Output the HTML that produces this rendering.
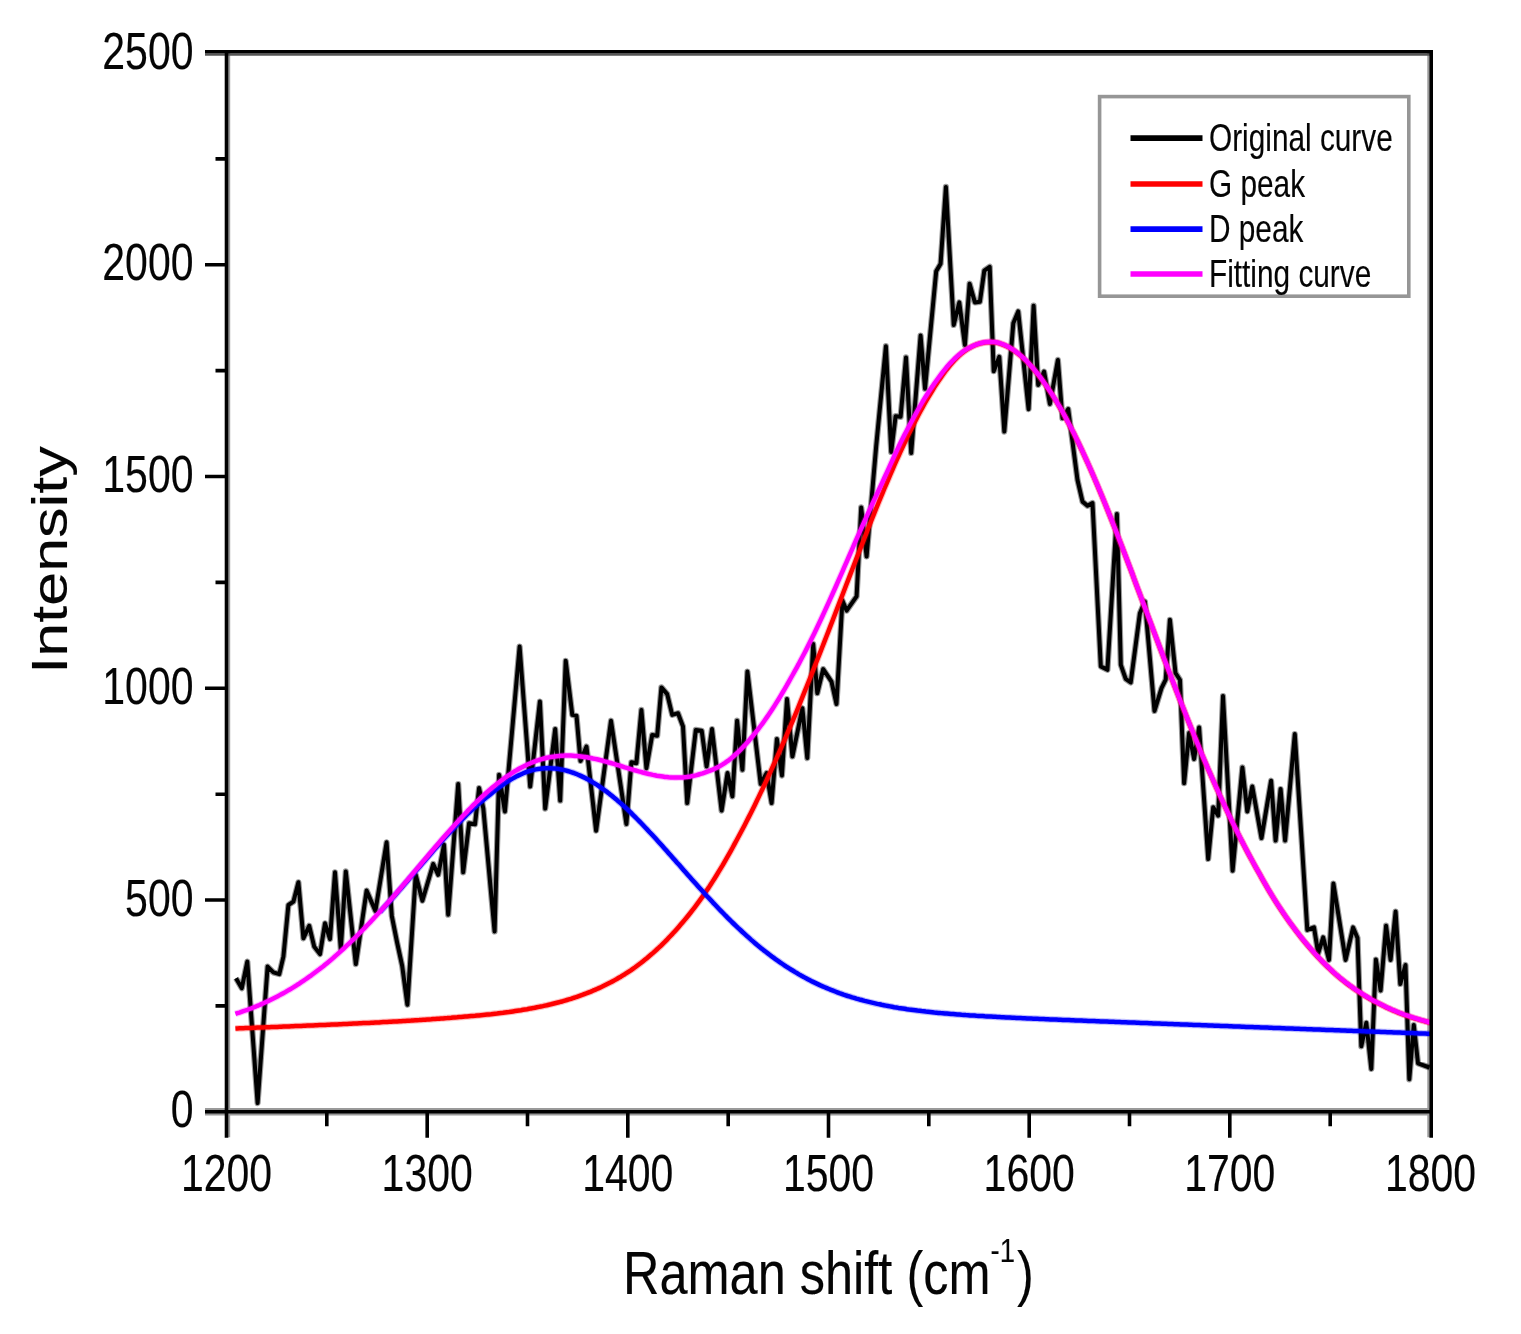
<!DOCTYPE html>
<html lang="en"><head><meta charset="utf-8"><title>Raman spectrum</title>
<style>html,body{margin:0;padding:0;background:#fff}body{width:1521px;height:1334px;overflow:hidden}svg{display:block}text{font-family:"Liberation Sans", Arial, Helvetica, sans-serif;fill:#050505;stroke:#050505;stroke-linejoin:round}</style></head><body>
<svg width="1521" height="1334" viewBox="0 0 1521 1334">
<rect width="1521" height="1334" fill="#fff"/>
<g>
<g stroke="#9a9a9a" stroke-width="2.4" fill="none">
<path d="M229.0,53.0 V1137.3"/>
<path d="M1428.5,53.0 V1137.3"/>
<path d="M205.0,1109.3 H1430.5"/>
<path d="M205.0,1114.3 H1430.5"/>
<path d="M205.0,54.6 H1430.5" stroke="#555"/>
</g>
<g fill="none" stroke-linejoin="round" stroke-linecap="butt">
<path d="M236.0,978.2 L241.8,988.2 L247.3,961.6 L257.6,1103.1 L267.6,966.6 L273.4,972.4 L279.3,974.1 L283.4,956.6 L288.4,905.0 L293.4,901.7 L298.4,882.3 L303.4,938.3 L309.2,925.8 L314.2,946.6 L320.0,954.1 L325.0,923.3 L330.0,939.1 L335.0,872.3 L340.8,949.1 L345.8,871.4 L355.8,964.1 L366.6,890.6 L375.4,911.0 L386.6,842.3 L391.8,916.0 L397.0,942.0 L402.2,966.0 L407.4,1004.8 L415.7,874.8 L422.4,900.7 L433.2,864.0 L438.2,874.8 L444.0,844.8 L448.2,914.7 L458.2,784.1 L463.2,872.3 L469.1,823.2 L475.0,824.3 L479.1,788.1 L483.3,808.3 L494.6,931.5 L499.1,774.8 L504.9,811.5 L519.6,646.6 L530.2,786.5 L539.9,701.6 L545.2,808.6 L555.2,729.0 L560.2,800.6 L565.7,660.8 L572.3,714.9 L576.5,715.7 L580.5,761.0 L586.5,746.5 L596.1,830.7 L611.0,720.7 L626.4,824.0 L631.4,762.3 L636.4,763.2 L641.4,709.9 L646.4,768.2 L652.2,734.9 L657.2,735.7 L661.4,687.4 L667.2,694.1 L672.2,714.9 L678.0,713.2 L683.0,726.5 L687.2,803.1 L695.8,729.9 L701.7,730.7 L706.6,766.5 L712.0,729.0 L721.6,810.6 L727.5,773.1 L732.4,796.4 L737.1,720.7 L742.4,769.8 L747.4,671.6 L760.7,783.9 L766.6,773.1 L771.6,803.1 L776.9,739.0 L781.9,775.6 L787.0,699.1 L792.4,756.5 L802.4,708.2 L807.3,758.1 L813.2,644.1 L817.3,693.2 L823.2,669.1 L831.5,681.6 L836.5,704.0 L842.4,600.6 L846.6,610.6 L856.6,596.4 L861.2,507.4 L866.6,556.5 L876.2,446.0 L885.9,346.2 L891.2,452.0 L895.6,416.2 L900.6,416.8 L906.0,357.4 L911.2,453.0 L920.6,335.6 L925.0,388.7 L936.2,271.2 L940.6,263.7 L945.9,186.9 L953.7,325.0 L959.3,302.4 L964.9,345.0 L969.6,283.7 L974.9,302.4 L979.9,301.8 L984.3,270.6 L989.7,266.8 L993.7,371.2 L999.3,356.8 L1004.3,431.6 L1013.3,323.3 L1018.2,311.4 L1028.6,409.2 L1033.6,305.7 L1038.2,384.9 L1044.1,371.6 L1049.9,404.0 L1057.9,359.9 L1062.4,418.2 L1068.2,409.0 L1077.5,480.0 L1082.5,501.6 L1087.5,505.8 L1092.5,503.0 L1100.8,666.4 L1107.4,669.8 L1116.9,514.1 L1120.8,664.8 L1125.7,678.9 L1130.7,682.5 L1139.9,613.2 L1144.9,601.5 L1154.5,711.0 L1161.5,688.1 L1165.7,679.7 L1169.9,619.8 L1175.5,673.0 L1180.0,680.0 L1184.1,783.2 L1189.1,733.0 L1194.1,759.0 L1199.1,727.4 L1208.2,859.0 L1213.2,807.3 L1218.2,815.6 L1223.0,696.0 L1232.6,870.7 L1242.4,767.4 L1247.3,811.5 L1252.3,786.5 L1261.5,838.1 L1271.1,780.7 L1275.6,840.6 L1280.6,789.0 L1285.1,840.6 L1294.8,734.1 L1301.4,836.4 L1307.3,929.9 L1314.0,927.4 L1318.2,953.2 L1323.2,937.4 L1329.0,959.9 L1333.4,883.5 L1345.6,959.9 L1353.1,927.4 L1357.5,938.0 L1361.3,1046.3 L1366.3,1022.8 L1371.3,1069.0 L1375.9,959.5 L1380.6,990.5 L1386.1,925.7 L1390.6,959.9 L1395.6,911.6 L1400.3,984.0 L1405.5,965.0 L1409.3,1079.3 L1413.8,1025.0 L1418.0,1063.4 L1429.5,1067.5" stroke="#000" stroke-opacity="0.4" stroke-width="6.2"/>
<path d="M236.0,978.2 L241.8,988.2 L247.3,961.6 L257.6,1103.1 L267.6,966.6 L273.4,972.4 L279.3,974.1 L283.4,956.6 L288.4,905.0 L293.4,901.7 L298.4,882.3 L303.4,938.3 L309.2,925.8 L314.2,946.6 L320.0,954.1 L325.0,923.3 L330.0,939.1 L335.0,872.3 L340.8,949.1 L345.8,871.4 L355.8,964.1 L366.6,890.6 L375.4,911.0 L386.6,842.3 L391.8,916.0 L397.0,942.0 L402.2,966.0 L407.4,1004.8 L415.7,874.8 L422.4,900.7 L433.2,864.0 L438.2,874.8 L444.0,844.8 L448.2,914.7 L458.2,784.1 L463.2,872.3 L469.1,823.2 L475.0,824.3 L479.1,788.1 L483.3,808.3 L494.6,931.5 L499.1,774.8 L504.9,811.5 L519.6,646.6 L530.2,786.5 L539.9,701.6 L545.2,808.6 L555.2,729.0 L560.2,800.6 L565.7,660.8 L572.3,714.9 L576.5,715.7 L580.5,761.0 L586.5,746.5 L596.1,830.7 L611.0,720.7 L626.4,824.0 L631.4,762.3 L636.4,763.2 L641.4,709.9 L646.4,768.2 L652.2,734.9 L657.2,735.7 L661.4,687.4 L667.2,694.1 L672.2,714.9 L678.0,713.2 L683.0,726.5 L687.2,803.1 L695.8,729.9 L701.7,730.7 L706.6,766.5 L712.0,729.0 L721.6,810.6 L727.5,773.1 L732.4,796.4 L737.1,720.7 L742.4,769.8 L747.4,671.6 L760.7,783.9 L766.6,773.1 L771.6,803.1 L776.9,739.0 L781.9,775.6 L787.0,699.1 L792.4,756.5 L802.4,708.2 L807.3,758.1 L813.2,644.1 L817.3,693.2 L823.2,669.1 L831.5,681.6 L836.5,704.0 L842.4,600.6 L846.6,610.6 L856.6,596.4 L861.2,507.4 L866.6,556.5 L876.2,446.0 L885.9,346.2 L891.2,452.0 L895.6,416.2 L900.6,416.8 L906.0,357.4 L911.2,453.0 L920.6,335.6 L925.0,388.7 L936.2,271.2 L940.6,263.7 L945.9,186.9 L953.7,325.0 L959.3,302.4 L964.9,345.0 L969.6,283.7 L974.9,302.4 L979.9,301.8 L984.3,270.6 L989.7,266.8 L993.7,371.2 L999.3,356.8 L1004.3,431.6 L1013.3,323.3 L1018.2,311.4 L1028.6,409.2 L1033.6,305.7 L1038.2,384.9 L1044.1,371.6 L1049.9,404.0 L1057.9,359.9 L1062.4,418.2 L1068.2,409.0 L1077.5,480.0 L1082.5,501.6 L1087.5,505.8 L1092.5,503.0 L1100.8,666.4 L1107.4,669.8 L1116.9,514.1 L1120.8,664.8 L1125.7,678.9 L1130.7,682.5 L1139.9,613.2 L1144.9,601.5 L1154.5,711.0 L1161.5,688.1 L1165.7,679.7 L1169.9,619.8 L1175.5,673.0 L1180.0,680.0 L1184.1,783.2 L1189.1,733.0 L1194.1,759.0 L1199.1,727.4 L1208.2,859.0 L1213.2,807.3 L1218.2,815.6 L1223.0,696.0 L1232.6,870.7 L1242.4,767.4 L1247.3,811.5 L1252.3,786.5 L1261.5,838.1 L1271.1,780.7 L1275.6,840.6 L1280.6,789.0 L1285.1,840.6 L1294.8,734.1 L1301.4,836.4 L1307.3,929.9 L1314.0,927.4 L1318.2,953.2 L1323.2,937.4 L1329.0,959.9 L1333.4,883.5 L1345.6,959.9 L1353.1,927.4 L1357.5,938.0 L1361.3,1046.3 L1366.3,1022.8 L1371.3,1069.0 L1375.9,959.5 L1380.6,990.5 L1386.1,925.7 L1390.6,959.9 L1395.6,911.6 L1400.3,984.0 L1405.5,965.0 L1409.3,1079.3 L1413.8,1025.0 L1418.0,1063.4 L1429.5,1067.5" stroke="#000" stroke-width="4.0"/>
<path d="M235.4,1028.5 L237.4,1028.4 L239.4,1028.3 L241.4,1028.3 L243.4,1028.2 L245.4,1028.1 L247.4,1028.0 L249.4,1028.0 L251.4,1027.9 L253.4,1027.8 L255.4,1027.7 L257.4,1027.6 L259.4,1027.6 L261.4,1027.5 L263.4,1027.4 L265.4,1027.3 L267.4,1027.3 L269.3,1027.2 L271.3,1027.1 L273.3,1027.0 L275.3,1026.9 L277.3,1026.9 L279.3,1026.8 L281.3,1026.7 L283.3,1026.6 L285.3,1026.5 L287.3,1026.5 L289.3,1026.4 L291.3,1026.3 L293.3,1026.2 L295.3,1026.1 L297.3,1026.1 L299.3,1026.0 L301.3,1025.9 L303.3,1025.8 L305.3,1025.7 L307.3,1025.6 L309.3,1025.6 L311.3,1025.5 L313.3,1025.4 L315.3,1025.3 L317.3,1025.2 L319.3,1025.1 L321.3,1025.1 L323.3,1025.0 L325.3,1024.9 L327.3,1024.8 L329.3,1024.7 L331.3,1024.6 L333.3,1024.5 L335.2,1024.4 L337.2,1024.4 L339.2,1024.3 L341.2,1024.2 L343.2,1024.1 L345.2,1024.0 L347.2,1023.9 L349.2,1023.8 L351.2,1023.7 L353.2,1023.6 L355.2,1023.5 L357.2,1023.4 L359.2,1023.3 L361.2,1023.2 L363.2,1023.1 L365.2,1023.1 L367.2,1023.0 L369.2,1022.9 L371.2,1022.8 L373.2,1022.7 L375.2,1022.6 L377.2,1022.5 L379.2,1022.4 L381.2,1022.2 L383.2,1022.1 L385.2,1022.0 L387.2,1021.9 L389.2,1021.8 L391.2,1021.7 L393.2,1021.6 L395.2,1021.5 L397.2,1021.4 L399.2,1021.3 L401.2,1021.2 L403.1,1021.0 L405.1,1020.9 L407.1,1020.8 L409.1,1020.7 L411.1,1020.6 L413.1,1020.4 L415.1,1020.3 L417.1,1020.2 L419.1,1020.1 L421.1,1019.9 L423.1,1019.8 L425.1,1019.7 L427.1,1019.5 L429.1,1019.4 L431.1,1019.3 L433.1,1019.1 L435.1,1019.0 L437.1,1018.8 L439.1,1018.7 L441.1,1018.5 L443.1,1018.4 L445.1,1018.2 L447.1,1018.1 L449.1,1017.9 L451.1,1017.8 L453.1,1017.6 L455.1,1017.4 L457.1,1017.3 L459.1,1017.1 L461.1,1017.0 L463.1,1016.8 L465.1,1016.6 L467.1,1016.5 L469.0,1016.3 L471.0,1016.1 L473.0,1015.9 L475.0,1015.8 L477.0,1015.6 L479.0,1015.4 L481.0,1015.2 L483.0,1015.0 L485.0,1014.8 L487.0,1014.6 L489.0,1014.4 L491.0,1014.2 L493.0,1013.9 L495.0,1013.7 L497.0,1013.5 L499.0,1013.2 L501.0,1013.0 L503.0,1012.8 L505.0,1012.5 L507.0,1012.2 L509.0,1012.0 L511.0,1011.7 L513.0,1011.4 L515.0,1011.1 L517.0,1010.8 L519.0,1010.5 L521.0,1010.2 L523.0,1009.8 L525.0,1009.5 L527.0,1009.2 L529.0,1008.8 L531.0,1008.4 L533.0,1008.1 L534.9,1007.7 L536.9,1007.3 L538.9,1006.9 L540.9,1006.5 L542.9,1006.1 L544.9,1005.6 L546.9,1005.2 L548.9,1004.7 L550.9,1004.3 L552.9,1003.8 L554.9,1003.3 L556.9,1002.8 L558.9,1002.3 L560.9,1001.7 L562.9,1001.2 L564.9,1000.6 L566.9,1000.0 L568.9,999.4 L570.9,998.8 L572.9,998.1 L574.9,997.5 L576.9,996.8 L578.9,996.1 L580.9,995.4 L582.9,994.7 L584.9,993.9 L586.9,993.2 L588.9,992.4 L590.9,991.6 L592.9,990.7 L594.9,989.9 L596.9,989.0 L598.9,988.1 L600.9,987.2 L602.8,986.3 L604.8,985.3 L606.8,984.3 L608.8,983.3 L610.8,982.3 L612.8,981.2 L614.8,980.1 L616.8,979.0 L618.8,977.8 L620.8,976.7 L622.8,975.4 L624.8,974.2 L626.8,972.9 L628.8,971.6 L630.8,970.3 L632.8,968.9 L634.8,967.5 L636.8,966.0 L638.8,964.5 L640.8,963.0 L642.8,961.4 L644.8,959.8 L646.8,958.2 L648.8,956.5 L650.8,954.8 L652.8,953.1 L654.8,951.3 L656.8,949.5 L658.8,947.7 L660.8,945.8 L662.8,943.8 L664.8,941.9 L666.8,939.9 L668.7,937.8 L670.7,935.7 L672.7,933.6 L674.7,931.4 L676.7,929.2 L678.7,926.9 L680.7,924.6 L682.7,922.3 L684.7,919.9 L686.7,917.5 L688.7,915.0 L690.7,912.5 L692.7,909.9 L694.7,907.3 L696.7,904.6 L698.7,901.9 L700.7,899.2 L702.7,896.4 L704.7,893.5 L706.7,890.5 L708.7,887.6 L710.7,884.5 L712.7,881.4 L714.7,878.2 L716.7,875.0 L718.7,871.7 L720.7,868.4 L722.7,865.1 L724.7,861.6 L726.7,858.2 L728.7,854.7 L730.7,851.1 L732.7,847.5 L734.6,843.9 L736.6,840.2 L738.6,836.5 L740.6,832.8 L742.6,829.0 L744.6,825.2 L746.6,821.3 L748.6,817.4 L750.6,813.4 L752.6,809.4 L754.6,805.4 L756.6,801.3 L758.6,797.1 L760.6,792.9 L762.6,788.7 L764.6,784.5 L766.6,780.2 L768.6,775.8 L770.6,771.4 L772.6,767.0 L774.6,762.6 L776.6,758.1 L778.6,753.6 L780.6,749.1 L782.6,744.5 L784.6,739.9 L786.6,735.2 L788.6,730.5 L790.6,725.8 L792.6,721.1 L794.6,716.3 L796.6,711.5 L798.6,706.6 L800.5,701.8 L802.5,696.9 L804.5,691.9 L806.5,687.0 L808.5,682.0 L810.5,677.0 L812.5,671.9 L814.5,666.9 L816.5,661.8 L818.5,656.7 L820.5,651.6 L822.5,646.5 L824.5,641.4 L826.5,636.2 L828.5,631.1 L830.5,625.9 L832.5,620.7 L834.5,615.5 L836.5,610.3 L838.5,605.1 L840.5,599.9 L842.5,594.7 L844.5,589.5 L846.5,584.3 L848.5,579.1 L850.5,573.9 L852.5,568.8 L854.5,563.6 L856.5,558.4 L858.5,553.3 L860.5,548.2 L862.5,543.1 L864.5,538.0 L866.5,532.9 L868.4,527.8 L870.4,522.8 L872.4,517.8 L874.4,512.9 L876.4,507.9 L878.4,503.0 L880.4,498.2 L882.4,493.3 L884.4,488.5 L886.4,483.8 L888.4,479.1 L890.4,474.4 L892.4,469.8 L894.4,465.2 L896.4,460.7 L898.4,456.3 L900.4,451.9 L902.4,447.5 L904.4,443.2 L906.4,439.0 L908.4,434.8 L910.4,430.7 L912.4,426.7 L914.4,422.7 L916.4,418.9 L918.4,415.0 L920.4,411.3 L922.4,407.6 L924.4,404.0 L926.4,400.5 L928.4,397.1 L930.4,393.8 L932.4,390.5 L934.3,387.4 L936.3,384.3 L938.3,381.3 L940.3,378.4 L942.3,375.5 L944.3,372.7 L946.3,370.0 L948.3,367.5 L950.3,365.0 L952.3,362.7 L954.3,360.5 L956.3,358.4 L958.3,356.4 L960.3,354.6 L962.3,352.9 L964.3,351.3 L966.3,349.9 L968.3,348.6 L970.3,347.5 L972.3,346.4 L974.3,345.5 L976.3,344.7 L978.3,344.0 L980.3,343.4 L982.3,343.0 L984.3,342.6 L986.3,342.3 L988.3,342.2 L990.3,342.1 L992.3,342.2 L994.3,342.3 L996.3,342.6 L998.3,343.0 L1000.2,343.6 L1002.2,344.3 L1004.2,345.1 L1006.2,346.0 L1008.2,347.0 L1010.2,348.1 L1012.2,349.4 L1014.2,350.7 L1016.2,352.2 L1018.2,353.7 L1020.2,355.4 L1022.2,357.1 L1024.2,359.0 L1026.2,361.0 L1028.2,363.0 L1030.2,365.2 L1032.2,367.5 L1034.2,369.8 L1036.2,372.3 L1038.2,374.8 L1040.2,377.5 L1042.2,380.2 L1044.2,383.0 L1046.2,385.8 L1048.2,388.8 L1050.2,391.8 L1052.2,394.8 L1054.2,398.0 L1056.2,401.2 L1058.2,404.6 L1060.2,408.0 L1062.2,411.5 L1064.2,415.1 L1066.1,418.7 L1068.1,422.5 L1070.1,426.3 L1072.1,430.2 L1074.1,434.1 L1076.1,438.2 L1078.1,442.3 L1080.1,446.5 L1082.1,450.7 L1084.1,455.1 L1086.1,459.5 L1088.1,463.9 L1090.1,468.4 L1092.1,473.0 L1094.1,477.6 L1096.1,482.3 L1098.1,487.0 L1100.1,491.8 L1102.1,496.6 L1104.1,501.5 L1106.1,506.4 L1108.1,511.4 L1110.1,516.4 L1112.1,521.4 L1114.1,526.5 L1116.1,531.6 L1118.1,536.8 L1120.1,542.0 L1122.1,547.1 L1124.1,552.4 L1126.1,557.6 L1128.1,562.9 L1130.1,568.1 L1132.1,573.4 L1134.0,578.7 L1136.0,584.1 L1138.0,589.4 L1140.0,594.7 L1142.0,600.0 L1144.0,605.4 L1146.0,610.7 L1148.0,616.1 L1150.0,621.4 L1152.0,626.7 L1154.0,632.1 L1156.0,637.4 L1158.0,642.7 L1160.0,648.0 L1162.0,653.3 L1164.0,658.6 L1166.0,663.8 L1168.0,669.1 L1170.0,674.3 L1172.0,679.5 L1174.0,684.7 L1176.0,689.9 L1178.0,695.0 L1180.0,700.2 L1182.0,705.3 L1184.0,710.3 L1186.0,715.4 L1188.0,720.4 L1190.0,725.4 L1192.0,730.3 L1194.0,735.3 L1196.0,740.2 L1198.0,745.0 L1199.9,749.8 L1201.9,754.6 L1203.9,759.3 L1205.9,764.0 L1207.9,768.6 L1209.9,773.2 L1211.9,777.7 L1213.9,782.2 L1215.9,786.7 L1217.9,791.1 L1219.9,795.6 L1221.9,800.0 L1223.9,804.3 L1225.9,808.6 L1227.9,812.9 L1229.9,817.1 L1231.9,821.3 L1233.9,825.4 L1235.9,829.5 L1237.9,833.5 L1239.9,837.5 L1241.9,841.4 L1243.9,845.3 L1245.9,849.1 L1247.9,852.9 L1249.9,856.6 L1251.9,860.3 L1253.9,864.0 L1255.9,867.6 L1257.9,871.1 L1259.9,874.7 L1261.9,878.3 L1263.9,881.8 L1265.8,885.2 L1267.8,888.7 L1269.8,892.0 L1271.8,895.3 L1273.8,898.6 L1275.8,901.8 L1277.8,904.9 L1279.8,907.9 L1281.8,910.9 L1283.8,913.9 L1285.8,916.8 L1287.8,919.7 L1289.8,922.5 L1291.8,925.2 L1293.8,927.9 L1295.8,930.6 L1297.8,933.2 L1299.8,935.8 L1301.8,938.3 L1303.8,940.8 L1305.8,943.2 L1307.8,945.6 L1309.8,947.9 L1311.8,950.2 L1313.8,952.5 L1315.8,954.7 L1317.8,956.9 L1319.8,959.0 L1321.8,961.1 L1323.8,963.1 L1325.8,965.1 L1327.8,967.0 L1329.8,968.9 L1331.8,970.8 L1333.7,972.6 L1335.7,974.4 L1337.7,976.1 L1339.7,977.8 L1341.7,979.4 L1343.7,981.0 L1345.7,982.6 L1347.7,984.1 L1349.7,985.6 L1351.7,987.0 L1353.7,988.5 L1355.7,989.9 L1357.7,991.2 L1359.7,992.5 L1361.7,993.8 L1363.7,995.1 L1365.7,996.3 L1367.7,997.5 L1369.7,998.7 L1371.7,999.9 L1373.7,1001.0 L1375.7,1002.1 L1377.7,1003.1 L1379.7,1004.1 L1381.7,1005.1 L1383.7,1006.1 L1385.7,1007.1 L1387.7,1008.0 L1389.7,1008.9 L1391.7,1009.8 L1393.7,1010.6 L1395.7,1011.5 L1397.7,1012.3 L1399.6,1013.1 L1401.6,1013.8 L1403.6,1014.6 L1405.6,1015.3 L1407.6,1016.0 L1409.6,1016.7 L1411.6,1017.3 L1413.6,1018.0 L1415.6,1018.6 L1417.6,1019.2 L1419.6,1019.8 L1421.6,1020.4 L1423.6,1020.9 L1425.6,1021.5 L1427.6,1022.0 L1429.6,1022.5 L1431.6,1023.0" stroke="#ff0000" stroke-opacity="0.25" stroke-width="6.7"/>
<path d="M235.4,1028.5 L237.4,1028.4 L239.4,1028.3 L241.4,1028.3 L243.4,1028.2 L245.4,1028.1 L247.4,1028.0 L249.4,1028.0 L251.4,1027.9 L253.4,1027.8 L255.4,1027.7 L257.4,1027.6 L259.4,1027.6 L261.4,1027.5 L263.4,1027.4 L265.4,1027.3 L267.4,1027.3 L269.3,1027.2 L271.3,1027.1 L273.3,1027.0 L275.3,1026.9 L277.3,1026.9 L279.3,1026.8 L281.3,1026.7 L283.3,1026.6 L285.3,1026.5 L287.3,1026.5 L289.3,1026.4 L291.3,1026.3 L293.3,1026.2 L295.3,1026.1 L297.3,1026.1 L299.3,1026.0 L301.3,1025.9 L303.3,1025.8 L305.3,1025.7 L307.3,1025.6 L309.3,1025.6 L311.3,1025.5 L313.3,1025.4 L315.3,1025.3 L317.3,1025.2 L319.3,1025.1 L321.3,1025.1 L323.3,1025.0 L325.3,1024.9 L327.3,1024.8 L329.3,1024.7 L331.3,1024.6 L333.3,1024.5 L335.2,1024.4 L337.2,1024.4 L339.2,1024.3 L341.2,1024.2 L343.2,1024.1 L345.2,1024.0 L347.2,1023.9 L349.2,1023.8 L351.2,1023.7 L353.2,1023.6 L355.2,1023.5 L357.2,1023.4 L359.2,1023.3 L361.2,1023.2 L363.2,1023.1 L365.2,1023.1 L367.2,1023.0 L369.2,1022.9 L371.2,1022.8 L373.2,1022.7 L375.2,1022.6 L377.2,1022.5 L379.2,1022.4 L381.2,1022.2 L383.2,1022.1 L385.2,1022.0 L387.2,1021.9 L389.2,1021.8 L391.2,1021.7 L393.2,1021.6 L395.2,1021.5 L397.2,1021.4 L399.2,1021.3 L401.2,1021.2 L403.1,1021.0 L405.1,1020.9 L407.1,1020.8 L409.1,1020.7 L411.1,1020.6 L413.1,1020.4 L415.1,1020.3 L417.1,1020.2 L419.1,1020.1 L421.1,1019.9 L423.1,1019.8 L425.1,1019.7 L427.1,1019.5 L429.1,1019.4 L431.1,1019.3 L433.1,1019.1 L435.1,1019.0 L437.1,1018.8 L439.1,1018.7 L441.1,1018.5 L443.1,1018.4 L445.1,1018.2 L447.1,1018.1 L449.1,1017.9 L451.1,1017.8 L453.1,1017.6 L455.1,1017.4 L457.1,1017.3 L459.1,1017.1 L461.1,1017.0 L463.1,1016.8 L465.1,1016.6 L467.1,1016.5 L469.0,1016.3 L471.0,1016.1 L473.0,1015.9 L475.0,1015.8 L477.0,1015.6 L479.0,1015.4 L481.0,1015.2 L483.0,1015.0 L485.0,1014.8 L487.0,1014.6 L489.0,1014.4 L491.0,1014.2 L493.0,1013.9 L495.0,1013.7 L497.0,1013.5 L499.0,1013.2 L501.0,1013.0 L503.0,1012.8 L505.0,1012.5 L507.0,1012.2 L509.0,1012.0 L511.0,1011.7 L513.0,1011.4 L515.0,1011.1 L517.0,1010.8 L519.0,1010.5 L521.0,1010.2 L523.0,1009.8 L525.0,1009.5 L527.0,1009.2 L529.0,1008.8 L531.0,1008.4 L533.0,1008.1 L534.9,1007.7 L536.9,1007.3 L538.9,1006.9 L540.9,1006.5 L542.9,1006.1 L544.9,1005.6 L546.9,1005.2 L548.9,1004.7 L550.9,1004.3 L552.9,1003.8 L554.9,1003.3 L556.9,1002.8 L558.9,1002.3 L560.9,1001.7 L562.9,1001.2 L564.9,1000.6 L566.9,1000.0 L568.9,999.4 L570.9,998.8 L572.9,998.1 L574.9,997.5 L576.9,996.8 L578.9,996.1 L580.9,995.4 L582.9,994.7 L584.9,993.9 L586.9,993.2 L588.9,992.4 L590.9,991.6 L592.9,990.7 L594.9,989.9 L596.9,989.0 L598.9,988.1 L600.9,987.2 L602.8,986.3 L604.8,985.3 L606.8,984.3 L608.8,983.3 L610.8,982.3 L612.8,981.2 L614.8,980.1 L616.8,979.0 L618.8,977.8 L620.8,976.7 L622.8,975.4 L624.8,974.2 L626.8,972.9 L628.8,971.6 L630.8,970.3 L632.8,968.9 L634.8,967.5 L636.8,966.0 L638.8,964.5 L640.8,963.0 L642.8,961.4 L644.8,959.8 L646.8,958.2 L648.8,956.5 L650.8,954.8 L652.8,953.1 L654.8,951.3 L656.8,949.5 L658.8,947.7 L660.8,945.8 L662.8,943.8 L664.8,941.9 L666.8,939.9 L668.7,937.8 L670.7,935.7 L672.7,933.6 L674.7,931.4 L676.7,929.2 L678.7,926.9 L680.7,924.6 L682.7,922.3 L684.7,919.9 L686.7,917.5 L688.7,915.0 L690.7,912.5 L692.7,909.9 L694.7,907.3 L696.7,904.6 L698.7,901.9 L700.7,899.2 L702.7,896.4 L704.7,893.5 L706.7,890.5 L708.7,887.6 L710.7,884.5 L712.7,881.4 L714.7,878.2 L716.7,875.0 L718.7,871.7 L720.7,868.4 L722.7,865.1 L724.7,861.6 L726.7,858.2 L728.7,854.7 L730.7,851.1 L732.7,847.5 L734.6,843.9 L736.6,840.2 L738.6,836.5 L740.6,832.8 L742.6,829.0 L744.6,825.2 L746.6,821.3 L748.6,817.4 L750.6,813.4 L752.6,809.4 L754.6,805.4 L756.6,801.3 L758.6,797.1 L760.6,792.9 L762.6,788.7 L764.6,784.5 L766.6,780.2 L768.6,775.8 L770.6,771.4 L772.6,767.0 L774.6,762.6 L776.6,758.1 L778.6,753.6 L780.6,749.1 L782.6,744.5 L784.6,739.9 L786.6,735.2 L788.6,730.5 L790.6,725.8 L792.6,721.1 L794.6,716.3 L796.6,711.5 L798.6,706.6 L800.5,701.8 L802.5,696.9 L804.5,691.9 L806.5,687.0 L808.5,682.0 L810.5,677.0 L812.5,671.9 L814.5,666.9 L816.5,661.8 L818.5,656.7 L820.5,651.6 L822.5,646.5 L824.5,641.4 L826.5,636.2 L828.5,631.1 L830.5,625.9 L832.5,620.7 L834.5,615.5 L836.5,610.3 L838.5,605.1 L840.5,599.9 L842.5,594.7 L844.5,589.5 L846.5,584.3 L848.5,579.1 L850.5,573.9 L852.5,568.8 L854.5,563.6 L856.5,558.4 L858.5,553.3 L860.5,548.2 L862.5,543.1 L864.5,538.0 L866.5,532.9 L868.4,527.8 L870.4,522.8 L872.4,517.8 L874.4,512.9 L876.4,507.9 L878.4,503.0 L880.4,498.2 L882.4,493.3 L884.4,488.5 L886.4,483.8 L888.4,479.1 L890.4,474.4 L892.4,469.8 L894.4,465.2 L896.4,460.7 L898.4,456.3 L900.4,451.9 L902.4,447.5 L904.4,443.2 L906.4,439.0 L908.4,434.8 L910.4,430.7 L912.4,426.7 L914.4,422.7 L916.4,418.9 L918.4,415.0 L920.4,411.3 L922.4,407.6 L924.4,404.0 L926.4,400.5 L928.4,397.1 L930.4,393.8 L932.4,390.5 L934.3,387.4 L936.3,384.3 L938.3,381.3 L940.3,378.4 L942.3,375.5 L944.3,372.7 L946.3,370.0 L948.3,367.5 L950.3,365.0 L952.3,362.7 L954.3,360.5 L956.3,358.4 L958.3,356.4 L960.3,354.6 L962.3,352.9 L964.3,351.3 L966.3,349.9 L968.3,348.6 L970.3,347.5 L972.3,346.4 L974.3,345.5 L976.3,344.7 L978.3,344.0 L980.3,343.4 L982.3,343.0 L984.3,342.6 L986.3,342.3 L988.3,342.2 L990.3,342.1 L992.3,342.2 L994.3,342.3 L996.3,342.6 L998.3,343.0 L1000.2,343.6 L1002.2,344.3 L1004.2,345.1 L1006.2,346.0 L1008.2,347.0 L1010.2,348.1 L1012.2,349.4 L1014.2,350.7 L1016.2,352.2 L1018.2,353.7 L1020.2,355.4 L1022.2,357.1 L1024.2,359.0 L1026.2,361.0 L1028.2,363.0 L1030.2,365.2 L1032.2,367.5 L1034.2,369.8 L1036.2,372.3 L1038.2,374.8 L1040.2,377.5 L1042.2,380.2 L1044.2,383.0 L1046.2,385.8 L1048.2,388.8 L1050.2,391.8 L1052.2,394.8 L1054.2,398.0 L1056.2,401.2 L1058.2,404.6 L1060.2,408.0 L1062.2,411.5 L1064.2,415.1 L1066.1,418.7 L1068.1,422.5 L1070.1,426.3 L1072.1,430.2 L1074.1,434.1 L1076.1,438.2 L1078.1,442.3 L1080.1,446.5 L1082.1,450.7 L1084.1,455.1 L1086.1,459.5 L1088.1,463.9 L1090.1,468.4 L1092.1,473.0 L1094.1,477.6 L1096.1,482.3 L1098.1,487.0 L1100.1,491.8 L1102.1,496.6 L1104.1,501.5 L1106.1,506.4 L1108.1,511.4 L1110.1,516.4 L1112.1,521.4 L1114.1,526.5 L1116.1,531.6 L1118.1,536.8 L1120.1,542.0 L1122.1,547.1 L1124.1,552.4 L1126.1,557.6 L1128.1,562.9 L1130.1,568.1 L1132.1,573.4 L1134.0,578.7 L1136.0,584.1 L1138.0,589.4 L1140.0,594.7 L1142.0,600.0 L1144.0,605.4 L1146.0,610.7 L1148.0,616.1 L1150.0,621.4 L1152.0,626.7 L1154.0,632.1 L1156.0,637.4 L1158.0,642.7 L1160.0,648.0 L1162.0,653.3 L1164.0,658.6 L1166.0,663.8 L1168.0,669.1 L1170.0,674.3 L1172.0,679.5 L1174.0,684.7 L1176.0,689.9 L1178.0,695.0 L1180.0,700.2 L1182.0,705.3 L1184.0,710.3 L1186.0,715.4 L1188.0,720.4 L1190.0,725.4 L1192.0,730.3 L1194.0,735.3 L1196.0,740.2 L1198.0,745.0 L1199.9,749.8 L1201.9,754.6 L1203.9,759.3 L1205.9,764.0 L1207.9,768.6 L1209.9,773.2 L1211.9,777.7 L1213.9,782.2 L1215.9,786.7 L1217.9,791.1 L1219.9,795.6 L1221.9,800.0 L1223.9,804.3 L1225.9,808.6 L1227.9,812.9 L1229.9,817.1 L1231.9,821.3 L1233.9,825.4 L1235.9,829.5 L1237.9,833.5 L1239.9,837.5 L1241.9,841.4 L1243.9,845.3 L1245.9,849.1 L1247.9,852.9 L1249.9,856.6 L1251.9,860.3 L1253.9,864.0 L1255.9,867.6 L1257.9,871.1 L1259.9,874.7 L1261.9,878.3 L1263.9,881.8 L1265.8,885.2 L1267.8,888.7 L1269.8,892.0 L1271.8,895.3 L1273.8,898.6 L1275.8,901.8 L1277.8,904.9 L1279.8,907.9 L1281.8,910.9 L1283.8,913.9 L1285.8,916.8 L1287.8,919.7 L1289.8,922.5 L1291.8,925.2 L1293.8,927.9 L1295.8,930.6 L1297.8,933.2 L1299.8,935.8 L1301.8,938.3 L1303.8,940.8 L1305.8,943.2 L1307.8,945.6 L1309.8,947.9 L1311.8,950.2 L1313.8,952.5 L1315.8,954.7 L1317.8,956.9 L1319.8,959.0 L1321.8,961.1 L1323.8,963.1 L1325.8,965.1 L1327.8,967.0 L1329.8,968.9 L1331.8,970.8 L1333.7,972.6 L1335.7,974.4 L1337.7,976.1 L1339.7,977.8 L1341.7,979.4 L1343.7,981.0 L1345.7,982.6 L1347.7,984.1 L1349.7,985.6 L1351.7,987.0 L1353.7,988.5 L1355.7,989.9 L1357.7,991.2 L1359.7,992.5 L1361.7,993.8 L1363.7,995.1 L1365.7,996.3 L1367.7,997.5 L1369.7,998.7 L1371.7,999.9 L1373.7,1001.0 L1375.7,1002.1 L1377.7,1003.1 L1379.7,1004.1 L1381.7,1005.1 L1383.7,1006.1 L1385.7,1007.1 L1387.7,1008.0 L1389.7,1008.9 L1391.7,1009.8 L1393.7,1010.6 L1395.7,1011.5 L1397.7,1012.3 L1399.6,1013.1 L1401.6,1013.8 L1403.6,1014.6 L1405.6,1015.3 L1407.6,1016.0 L1409.6,1016.7 L1411.6,1017.3 L1413.6,1018.0 L1415.6,1018.6 L1417.6,1019.2 L1419.6,1019.8 L1421.6,1020.4 L1423.6,1020.9 L1425.6,1021.5 L1427.6,1022.0 L1429.6,1022.5 L1431.6,1023.0" stroke="#ff0000" stroke-width="4.5"/>
<path d="M380.0,912.0 L382.1,909.6 L384.2,907.3 L386.3,905.0 L388.4,902.6 L390.5,900.2 L392.6,897.9 L394.8,895.5 L396.9,893.0 L399.0,890.6 L401.1,888.2 L403.2,885.8 L405.3,883.3 L407.4,880.9 L409.5,878.4 L411.6,876.0 L413.7,873.5 L415.8,871.1 L417.9,868.6 L420.0,866.2 L422.1,863.7 L424.3,861.3 L426.4,858.8 L428.5,856.4 L430.6,854.0 L432.7,851.5 L434.8,849.1 L436.9,846.7 L439.0,844.4 L441.1,842.0 L443.2,839.6 L445.3,837.3 L447.4,835.0 L449.5,832.7 L451.7,830.4 L453.8,828.2 L455.9,825.9 L458.0,823.7 L460.1,821.6 L462.2,819.4 L464.3,817.3 L466.4,815.2 L468.5,813.2 L470.6,811.2 L472.7,809.2 L474.8,807.3 L476.9,805.4 L479.0,803.5 L481.2,801.7 L483.3,800.0 L485.4,798.3 L487.5,796.6 L489.6,795.0 L491.7,793.2 L493.8,791.5 L495.9,789.8 L498.0,788.2 L500.1,786.6 L502.2,785.1 L504.3,783.6 L506.4,782.2 L508.6,780.9 L510.7,779.6 L512.8,778.4 L514.9,777.2 L517.0,776.1 L519.1,775.1 L521.2,774.2 L523.3,773.3 L525.4,772.4 L527.5,771.7 L529.6,771.0 L531.7,770.4 L533.8,769.9 L535.9,769.4 L538.1,769.0 L540.2,768.7 L542.3,768.5 L544.4,768.3 L546.5,768.2 L548.6,768.2 L550.7,768.2 L552.8,768.4 L554.9,768.6 L557.0,768.8 L559.1,769.1 L561.2,769.5 L563.3,769.9 L565.5,770.4 L567.6,771.0 L569.7,771.6 L571.8,772.3 L573.9,773.0 L576.0,773.8 L578.1,774.7 L580.2,775.6 L582.3,776.6 L584.4,777.6 L586.5,778.7 L588.6,779.8 L590.7,781.0 L592.8,782.3 L595.0,783.6 L597.1,784.9 L599.2,786.3 L601.3,787.8 L603.4,789.3 L605.5,790.8 L607.6,792.4 L609.7,794.1 L611.8,795.7 L613.9,797.5 L616.0,799.2 L618.1,801.1 L620.2,802.9 L622.4,804.8 L624.5,806.7 L626.6,808.7 L628.7,810.7 L630.8,812.7 L632.9,814.8 L635.0,816.9 L637.1,819.0 L639.2,821.1 L641.3,823.3 L643.4,825.5 L645.5,827.7 L647.6,829.9 L649.7,832.2 L651.9,834.5 L654.0,836.8 L656.1,839.1 L658.2,841.4 L660.3,843.7 L662.4,846.1 L664.5,848.4 L666.6,850.8 L668.7,853.2 L670.8,855.5 L672.9,857.9 L675.0,860.3 L677.1,862.7 L679.3,865.1 L681.4,867.5 L683.5,869.9 L685.6,872.3 L687.7,874.7 L689.8,877.0 L691.9,879.4 L694.0,881.8 L696.1,884.1 L698.2,886.5 L700.3,888.8 L702.4,891.1 L704.5,893.4 L706.6,895.7 L708.8,898.0 L710.9,900.3 L713.0,902.6 L715.1,904.8 L717.2,907.0 L719.3,909.2 L721.4,911.4 L723.5,913.5 L725.6,915.7 L727.7,917.8 L729.8,919.9 L731.9,922.0 L734.0,924.0 L736.2,926.1 L738.3,928.1 L740.4,930.0 L742.5,932.0 L744.6,933.9 L746.7,935.8 L748.8,937.7 L750.9,939.6 L753.0,941.4 L755.1,943.2 L757.2,945.0 L759.3,946.7 L761.4,948.4 L763.5,950.1 L765.7,951.8 L767.8,953.4 L769.9,955.0 L772.0,956.6 L774.1,958.1 L776.2,959.7 L778.3,961.1 L780.4,962.6 L782.5,964.0 L784.6,965.5 L786.7,966.8 L788.8,968.2 L790.9,969.5 L793.1,970.8 L795.2,972.1 L797.3,973.3 L799.4,974.6 L801.5,975.8 L803.6,976.9 L805.7,978.1 L807.8,979.2 L809.9,980.3 L812.0,981.4 L814.1,982.4 L816.2,983.4 L818.3,984.4 L820.4,985.4 L822.6,986.3 L824.7,987.2 L826.8,988.1 L828.9,989.0 L831.0,989.9 L833.1,990.7 L835.2,991.5 L837.3,992.3 L839.4,993.1 L841.5,993.8 L843.6,994.6 L845.7,995.3 L847.8,996.0 L850.0,996.6 L852.1,997.3 L854.2,997.9 L856.3,998.6 L858.4,999.2 L860.5,999.8 L862.6,1000.3 L864.7,1000.9 L866.8,1001.4 L868.9,1001.9 L871.0,1002.4 L873.1,1002.9 L875.2,1003.4 L877.3,1003.9 L879.5,1004.3 L881.6,1004.8 L883.7,1005.2 L885.8,1005.6 L887.9,1006.0 L890.0,1006.4 L892.1,1006.8 L894.2,1007.2 L896.3,1007.5 L898.4,1007.9 L900.5,1008.2 L902.6,1008.5 L904.7,1008.8 L906.9,1009.2 L909.0,1009.5 L911.1,1009.7 L913.2,1010.0 L915.3,1010.3 L917.4,1010.6 L919.5,1010.8 L921.6,1011.1 L923.7,1011.3 L925.8,1011.6 L927.9,1011.8 L930.0,1012.0 L932.1,1012.2 L934.3,1012.5 L936.4,1012.7 L938.5,1012.9 L940.6,1013.1 L942.7,1013.2 L944.8,1013.4 L946.9,1013.6 L949.0,1013.8 L951.1,1014.0 L953.2,1014.1 L955.3,1014.3 L957.4,1014.5 L959.5,1014.6 L961.6,1014.8 L963.8,1014.9 L965.9,1015.1 L968.0,1015.2 L970.1,1015.4 L972.2,1015.5 L974.3,1015.6 L976.4,1015.8 L978.5,1015.9 L980.6,1016.0 L982.7,1016.1 L984.8,1016.3 L986.9,1016.4 L989.0,1016.5 L991.2,1016.6 L993.3,1016.7 L995.4,1016.8 L997.5,1017.0 L999.6,1017.1 L1001.7,1017.2 L1003.8,1017.3 L1005.9,1017.4 L1008.0,1017.5 L1010.1,1017.6 L1012.2,1017.7 L1014.3,1017.8 L1016.4,1017.9 L1018.5,1018.0 L1020.7,1018.1 L1022.8,1018.2 L1024.9,1018.3 L1027.0,1018.4 L1029.1,1018.5 L1031.2,1018.6 L1033.3,1018.7 L1035.4,1018.7 L1037.5,1018.8 L1039.6,1018.9 L1041.7,1019.0 L1043.8,1019.1 L1045.9,1019.2 L1048.1,1019.3 L1050.2,1019.4 L1052.3,1019.4 L1054.4,1019.5 L1056.5,1019.6 L1058.6,1019.7 L1060.7,1019.8 L1062.8,1019.9 L1064.9,1020.0 L1067.0,1020.0 L1069.1,1020.1 L1071.2,1020.2 L1073.3,1020.3 L1075.4,1020.4 L1077.6,1020.5 L1079.7,1020.5 L1081.8,1020.6 L1083.9,1020.7 L1086.0,1020.8 L1088.1,1020.9 L1090.2,1021.0 L1092.3,1021.0 L1094.4,1021.1 L1096.5,1021.2 L1098.6,1021.3 L1100.7,1021.4 L1102.8,1021.4 L1105.0,1021.5 L1107.1,1021.6 L1109.2,1021.7 L1111.3,1021.8 L1113.4,1021.8 L1115.5,1021.9 L1117.6,1022.0 L1119.7,1022.1 L1121.8,1022.2 L1123.9,1022.2 L1126.0,1022.3 L1128.1,1022.4 L1130.2,1022.5 L1132.3,1022.6 L1134.5,1022.6 L1136.6,1022.7 L1138.7,1022.8 L1140.8,1022.9 L1142.9,1023.0 L1145.0,1023.0 L1147.1,1023.1 L1149.2,1023.2 L1151.3,1023.3 L1153.4,1023.4 L1155.5,1023.4 L1157.6,1023.5 L1159.7,1023.6 L1161.9,1023.7 L1164.0,1023.8 L1166.1,1023.8 L1168.2,1023.9 L1170.3,1024.0 L1172.4,1024.1 L1174.5,1024.2 L1176.6,1024.2 L1178.7,1024.3 L1180.8,1024.4 L1182.9,1024.5 L1185.0,1024.6 L1187.1,1024.6 L1189.2,1024.7 L1191.4,1024.8 L1193.5,1024.9 L1195.6,1025.0 L1197.7,1025.0 L1199.8,1025.1 L1201.9,1025.2 L1204.0,1025.3 L1206.1,1025.3 L1208.2,1025.4 L1210.3,1025.5 L1212.4,1025.6 L1214.5,1025.7 L1216.6,1025.7 L1218.8,1025.8 L1220.9,1025.9 L1223.0,1026.0 L1225.1,1026.1 L1227.2,1026.1 L1229.3,1026.2 L1231.4,1026.3 L1233.5,1026.4 L1235.6,1026.5 L1237.7,1026.5 L1239.8,1026.6 L1241.9,1026.7 L1244.0,1026.8 L1246.1,1026.9 L1248.3,1026.9 L1250.4,1027.0 L1252.5,1027.1 L1254.6,1027.2 L1256.7,1027.2 L1258.8,1027.3 L1260.9,1027.4 L1263.0,1027.5 L1265.1,1027.6 L1267.2,1027.6 L1269.3,1027.7 L1271.4,1027.8 L1273.5,1027.9 L1275.7,1028.0 L1277.8,1028.0 L1279.9,1028.1 L1282.0,1028.2 L1284.1,1028.3 L1286.2,1028.4 L1288.3,1028.4 L1290.4,1028.5 L1292.5,1028.6 L1294.6,1028.7 L1296.7,1028.8 L1298.8,1028.8 L1300.9,1028.9 L1303.0,1029.0 L1305.2,1029.1 L1307.3,1029.2 L1309.4,1029.2 L1311.5,1029.3 L1313.6,1029.4 L1315.7,1029.5 L1317.8,1029.5 L1319.9,1029.6 L1322.0,1029.7 L1324.1,1029.8 L1326.2,1029.9 L1328.3,1029.9 L1330.4,1030.0 L1332.6,1030.1 L1334.7,1030.2 L1336.8,1030.3 L1338.9,1030.3 L1341.0,1030.4 L1343.1,1030.5 L1345.2,1030.6 L1347.3,1030.7 L1349.4,1030.7 L1351.5,1030.8 L1353.6,1030.9 L1355.7,1031.0 L1357.8,1031.1 L1359.9,1031.1 L1362.1,1031.2 L1364.2,1031.3 L1366.3,1031.4 L1368.4,1031.4 L1370.5,1031.5 L1372.6,1031.6 L1374.7,1031.7 L1376.8,1031.8 L1378.9,1031.8 L1381.0,1031.9 L1383.1,1032.0 L1385.2,1032.1 L1387.3,1032.2 L1389.5,1032.2 L1391.6,1032.3 L1393.7,1032.4 L1395.8,1032.5 L1397.9,1032.6 L1400.0,1032.6 L1402.1,1032.7 L1404.2,1032.8 L1406.3,1032.9 L1408.4,1033.0 L1410.5,1033.0 L1412.6,1033.1 L1414.7,1033.2 L1416.8,1033.3 L1419.0,1033.4 L1421.1,1033.4 L1423.2,1033.5 L1425.3,1033.6 L1427.4,1033.7 L1429.5,1033.7 L1431.6,1033.8" stroke="#0000ff" stroke-opacity="0.25" stroke-width="6.7"/>
<path d="M380.0,912.0 L382.1,909.6 L384.2,907.3 L386.3,905.0 L388.4,902.6 L390.5,900.2 L392.6,897.9 L394.8,895.5 L396.9,893.0 L399.0,890.6 L401.1,888.2 L403.2,885.8 L405.3,883.3 L407.4,880.9 L409.5,878.4 L411.6,876.0 L413.7,873.5 L415.8,871.1 L417.9,868.6 L420.0,866.2 L422.1,863.7 L424.3,861.3 L426.4,858.8 L428.5,856.4 L430.6,854.0 L432.7,851.5 L434.8,849.1 L436.9,846.7 L439.0,844.4 L441.1,842.0 L443.2,839.6 L445.3,837.3 L447.4,835.0 L449.5,832.7 L451.7,830.4 L453.8,828.2 L455.9,825.9 L458.0,823.7 L460.1,821.6 L462.2,819.4 L464.3,817.3 L466.4,815.2 L468.5,813.2 L470.6,811.2 L472.7,809.2 L474.8,807.3 L476.9,805.4 L479.0,803.5 L481.2,801.7 L483.3,800.0 L485.4,798.3 L487.5,796.6 L489.6,795.0 L491.7,793.2 L493.8,791.5 L495.9,789.8 L498.0,788.2 L500.1,786.6 L502.2,785.1 L504.3,783.6 L506.4,782.2 L508.6,780.9 L510.7,779.6 L512.8,778.4 L514.9,777.2 L517.0,776.1 L519.1,775.1 L521.2,774.2 L523.3,773.3 L525.4,772.4 L527.5,771.7 L529.6,771.0 L531.7,770.4 L533.8,769.9 L535.9,769.4 L538.1,769.0 L540.2,768.7 L542.3,768.5 L544.4,768.3 L546.5,768.2 L548.6,768.2 L550.7,768.2 L552.8,768.4 L554.9,768.6 L557.0,768.8 L559.1,769.1 L561.2,769.5 L563.3,769.9 L565.5,770.4 L567.6,771.0 L569.7,771.6 L571.8,772.3 L573.9,773.0 L576.0,773.8 L578.1,774.7 L580.2,775.6 L582.3,776.6 L584.4,777.6 L586.5,778.7 L588.6,779.8 L590.7,781.0 L592.8,782.3 L595.0,783.6 L597.1,784.9 L599.2,786.3 L601.3,787.8 L603.4,789.3 L605.5,790.8 L607.6,792.4 L609.7,794.1 L611.8,795.7 L613.9,797.5 L616.0,799.2 L618.1,801.1 L620.2,802.9 L622.4,804.8 L624.5,806.7 L626.6,808.7 L628.7,810.7 L630.8,812.7 L632.9,814.8 L635.0,816.9 L637.1,819.0 L639.2,821.1 L641.3,823.3 L643.4,825.5 L645.5,827.7 L647.6,829.9 L649.7,832.2 L651.9,834.5 L654.0,836.8 L656.1,839.1 L658.2,841.4 L660.3,843.7 L662.4,846.1 L664.5,848.4 L666.6,850.8 L668.7,853.2 L670.8,855.5 L672.9,857.9 L675.0,860.3 L677.1,862.7 L679.3,865.1 L681.4,867.5 L683.5,869.9 L685.6,872.3 L687.7,874.7 L689.8,877.0 L691.9,879.4 L694.0,881.8 L696.1,884.1 L698.2,886.5 L700.3,888.8 L702.4,891.1 L704.5,893.4 L706.6,895.7 L708.8,898.0 L710.9,900.3 L713.0,902.6 L715.1,904.8 L717.2,907.0 L719.3,909.2 L721.4,911.4 L723.5,913.5 L725.6,915.7 L727.7,917.8 L729.8,919.9 L731.9,922.0 L734.0,924.0 L736.2,926.1 L738.3,928.1 L740.4,930.0 L742.5,932.0 L744.6,933.9 L746.7,935.8 L748.8,937.7 L750.9,939.6 L753.0,941.4 L755.1,943.2 L757.2,945.0 L759.3,946.7 L761.4,948.4 L763.5,950.1 L765.7,951.8 L767.8,953.4 L769.9,955.0 L772.0,956.6 L774.1,958.1 L776.2,959.7 L778.3,961.1 L780.4,962.6 L782.5,964.0 L784.6,965.5 L786.7,966.8 L788.8,968.2 L790.9,969.5 L793.1,970.8 L795.2,972.1 L797.3,973.3 L799.4,974.6 L801.5,975.8 L803.6,976.9 L805.7,978.1 L807.8,979.2 L809.9,980.3 L812.0,981.4 L814.1,982.4 L816.2,983.4 L818.3,984.4 L820.4,985.4 L822.6,986.3 L824.7,987.2 L826.8,988.1 L828.9,989.0 L831.0,989.9 L833.1,990.7 L835.2,991.5 L837.3,992.3 L839.4,993.1 L841.5,993.8 L843.6,994.6 L845.7,995.3 L847.8,996.0 L850.0,996.6 L852.1,997.3 L854.2,997.9 L856.3,998.6 L858.4,999.2 L860.5,999.8 L862.6,1000.3 L864.7,1000.9 L866.8,1001.4 L868.9,1001.9 L871.0,1002.4 L873.1,1002.9 L875.2,1003.4 L877.3,1003.9 L879.5,1004.3 L881.6,1004.8 L883.7,1005.2 L885.8,1005.6 L887.9,1006.0 L890.0,1006.4 L892.1,1006.8 L894.2,1007.2 L896.3,1007.5 L898.4,1007.9 L900.5,1008.2 L902.6,1008.5 L904.7,1008.8 L906.9,1009.2 L909.0,1009.5 L911.1,1009.7 L913.2,1010.0 L915.3,1010.3 L917.4,1010.6 L919.5,1010.8 L921.6,1011.1 L923.7,1011.3 L925.8,1011.6 L927.9,1011.8 L930.0,1012.0 L932.1,1012.2 L934.3,1012.5 L936.4,1012.7 L938.5,1012.9 L940.6,1013.1 L942.7,1013.2 L944.8,1013.4 L946.9,1013.6 L949.0,1013.8 L951.1,1014.0 L953.2,1014.1 L955.3,1014.3 L957.4,1014.5 L959.5,1014.6 L961.6,1014.8 L963.8,1014.9 L965.9,1015.1 L968.0,1015.2 L970.1,1015.4 L972.2,1015.5 L974.3,1015.6 L976.4,1015.8 L978.5,1015.9 L980.6,1016.0 L982.7,1016.1 L984.8,1016.3 L986.9,1016.4 L989.0,1016.5 L991.2,1016.6 L993.3,1016.7 L995.4,1016.8 L997.5,1017.0 L999.6,1017.1 L1001.7,1017.2 L1003.8,1017.3 L1005.9,1017.4 L1008.0,1017.5 L1010.1,1017.6 L1012.2,1017.7 L1014.3,1017.8 L1016.4,1017.9 L1018.5,1018.0 L1020.7,1018.1 L1022.8,1018.2 L1024.9,1018.3 L1027.0,1018.4 L1029.1,1018.5 L1031.2,1018.6 L1033.3,1018.7 L1035.4,1018.7 L1037.5,1018.8 L1039.6,1018.9 L1041.7,1019.0 L1043.8,1019.1 L1045.9,1019.2 L1048.1,1019.3 L1050.2,1019.4 L1052.3,1019.4 L1054.4,1019.5 L1056.5,1019.6 L1058.6,1019.7 L1060.7,1019.8 L1062.8,1019.9 L1064.9,1020.0 L1067.0,1020.0 L1069.1,1020.1 L1071.2,1020.2 L1073.3,1020.3 L1075.4,1020.4 L1077.6,1020.5 L1079.7,1020.5 L1081.8,1020.6 L1083.9,1020.7 L1086.0,1020.8 L1088.1,1020.9 L1090.2,1021.0 L1092.3,1021.0 L1094.4,1021.1 L1096.5,1021.2 L1098.6,1021.3 L1100.7,1021.4 L1102.8,1021.4 L1105.0,1021.5 L1107.1,1021.6 L1109.2,1021.7 L1111.3,1021.8 L1113.4,1021.8 L1115.5,1021.9 L1117.6,1022.0 L1119.7,1022.1 L1121.8,1022.2 L1123.9,1022.2 L1126.0,1022.3 L1128.1,1022.4 L1130.2,1022.5 L1132.3,1022.6 L1134.5,1022.6 L1136.6,1022.7 L1138.7,1022.8 L1140.8,1022.9 L1142.9,1023.0 L1145.0,1023.0 L1147.1,1023.1 L1149.2,1023.2 L1151.3,1023.3 L1153.4,1023.4 L1155.5,1023.4 L1157.6,1023.5 L1159.7,1023.6 L1161.9,1023.7 L1164.0,1023.8 L1166.1,1023.8 L1168.2,1023.9 L1170.3,1024.0 L1172.4,1024.1 L1174.5,1024.2 L1176.6,1024.2 L1178.7,1024.3 L1180.8,1024.4 L1182.9,1024.5 L1185.0,1024.6 L1187.1,1024.6 L1189.2,1024.7 L1191.4,1024.8 L1193.5,1024.9 L1195.6,1025.0 L1197.7,1025.0 L1199.8,1025.1 L1201.9,1025.2 L1204.0,1025.3 L1206.1,1025.3 L1208.2,1025.4 L1210.3,1025.5 L1212.4,1025.6 L1214.5,1025.7 L1216.6,1025.7 L1218.8,1025.8 L1220.9,1025.9 L1223.0,1026.0 L1225.1,1026.1 L1227.2,1026.1 L1229.3,1026.2 L1231.4,1026.3 L1233.5,1026.4 L1235.6,1026.5 L1237.7,1026.5 L1239.8,1026.6 L1241.9,1026.7 L1244.0,1026.8 L1246.1,1026.9 L1248.3,1026.9 L1250.4,1027.0 L1252.5,1027.1 L1254.6,1027.2 L1256.7,1027.2 L1258.8,1027.3 L1260.9,1027.4 L1263.0,1027.5 L1265.1,1027.6 L1267.2,1027.6 L1269.3,1027.7 L1271.4,1027.8 L1273.5,1027.9 L1275.7,1028.0 L1277.8,1028.0 L1279.9,1028.1 L1282.0,1028.2 L1284.1,1028.3 L1286.2,1028.4 L1288.3,1028.4 L1290.4,1028.5 L1292.5,1028.6 L1294.6,1028.7 L1296.7,1028.8 L1298.8,1028.8 L1300.9,1028.9 L1303.0,1029.0 L1305.2,1029.1 L1307.3,1029.2 L1309.4,1029.2 L1311.5,1029.3 L1313.6,1029.4 L1315.7,1029.5 L1317.8,1029.5 L1319.9,1029.6 L1322.0,1029.7 L1324.1,1029.8 L1326.2,1029.9 L1328.3,1029.9 L1330.4,1030.0 L1332.6,1030.1 L1334.7,1030.2 L1336.8,1030.3 L1338.9,1030.3 L1341.0,1030.4 L1343.1,1030.5 L1345.2,1030.6 L1347.3,1030.7 L1349.4,1030.7 L1351.5,1030.8 L1353.6,1030.9 L1355.7,1031.0 L1357.8,1031.1 L1359.9,1031.1 L1362.1,1031.2 L1364.2,1031.3 L1366.3,1031.4 L1368.4,1031.4 L1370.5,1031.5 L1372.6,1031.6 L1374.7,1031.7 L1376.8,1031.8 L1378.9,1031.8 L1381.0,1031.9 L1383.1,1032.0 L1385.2,1032.1 L1387.3,1032.2 L1389.5,1032.2 L1391.6,1032.3 L1393.7,1032.4 L1395.8,1032.5 L1397.9,1032.6 L1400.0,1032.6 L1402.1,1032.7 L1404.2,1032.8 L1406.3,1032.9 L1408.4,1033.0 L1410.5,1033.0 L1412.6,1033.1 L1414.7,1033.2 L1416.8,1033.3 L1419.0,1033.4 L1421.1,1033.4 L1423.2,1033.5 L1425.3,1033.6 L1427.4,1033.7 L1429.5,1033.7 L1431.6,1033.8" stroke="#0000ff" stroke-width="4.5"/>
<path d="M235.4,1013.9 L237.4,1013.2 L239.4,1012.6 L241.4,1011.9 L243.4,1011.2 L245.4,1010.5 L247.4,1009.8 L249.4,1009.0 L251.4,1008.3 L253.4,1007.5 L255.4,1006.7 L257.4,1005.8 L259.4,1005.0 L261.4,1004.1 L263.4,1003.2 L265.4,1002.3 L267.4,1001.4 L269.3,1000.5 L271.3,999.5 L273.3,998.5 L275.3,997.5 L277.3,996.5 L279.3,995.4 L281.3,994.3 L283.3,993.2 L285.3,992.1 L287.3,990.9 L289.3,989.8 L291.3,988.6 L293.3,987.4 L295.3,986.1 L297.3,984.8 L299.3,983.6 L301.3,982.2 L303.3,980.9 L305.3,979.5 L307.3,978.1 L309.3,976.7 L311.3,975.3 L313.3,973.8 L315.3,972.3 L317.3,970.8 L319.3,969.3 L321.3,967.7 L323.3,966.2 L325.3,964.5 L327.3,962.9 L329.3,961.3 L331.3,959.6 L333.3,957.9 L335.2,956.1 L337.2,954.4 L339.2,952.6 L341.2,950.8 L343.2,949.0 L345.2,947.1 L347.2,945.2 L349.2,943.3 L351.2,941.4 L353.2,939.5 L355.2,937.5 L357.2,935.5 L359.2,933.5 L361.2,931.5 L363.2,929.5 L365.2,927.4 L367.2,925.3 L369.2,923.2 L371.2,921.1 L373.2,918.9 L375.2,916.8 L377.2,914.6 L379.2,912.4 L381.2,910.2 L383.2,908.0 L385.2,905.8 L387.2,903.5 L389.2,901.2 L391.2,899.0 L393.2,896.7 L395.2,894.4 L397.2,892.1 L399.2,889.7 L401.2,887.4 L403.1,885.1 L405.1,882.7 L407.1,880.4 L409.1,878.0 L411.1,875.7 L413.1,873.3 L415.1,870.9 L417.1,868.6 L419.1,866.2 L421.1,863.8 L423.1,861.4 L425.1,859.1 L427.1,856.7 L429.1,854.3 L431.1,852.0 L433.1,849.6 L435.1,847.3 L437.1,845.0 L439.1,842.6 L441.1,840.3 L443.1,838.0 L445.1,835.7 L447.1,833.4 L449.1,831.2 L451.1,828.9 L453.1,826.7 L455.1,824.5 L457.1,822.3 L459.1,820.1 L461.1,817.9 L463.1,815.8 L465.1,813.7 L467.1,811.6 L469.0,809.5 L471.0,807.5 L473.0,805.4 L475.0,803.5 L477.0,801.5 L479.0,799.6 L481.0,797.7 L483.0,795.8 L485.0,794.0 L487.0,792.2 L489.0,790.4 L491.0,788.7 L493.0,787.0 L495.0,785.4 L497.0,783.8 L499.0,782.2 L501.0,780.7 L503.0,779.2 L505.0,777.7 L507.0,776.3 L509.0,775.0 L511.0,773.6 L513.0,772.4 L515.0,771.1 L517.0,770.0 L519.0,768.8 L521.0,767.7 L523.0,766.7 L525.0,765.7 L527.0,764.7 L529.0,763.8 L531.0,763.0 L533.0,762.2 L534.9,761.4 L536.9,760.7 L538.9,760.0 L540.9,759.4 L542.9,758.8 L544.9,758.3 L546.9,757.8 L548.9,757.4 L550.9,757.0 L552.9,756.7 L554.9,756.4 L556.9,756.2 L558.9,756.0 L560.9,755.8 L562.9,755.7 L564.9,755.6 L566.9,755.6 L568.9,755.6 L570.9,755.6 L572.9,755.7 L574.9,755.9 L576.9,756.0 L578.9,756.2 L580.9,756.4 L582.9,756.7 L584.9,757.0 L586.9,757.3 L588.9,757.7 L590.9,758.0 L592.9,758.5 L594.9,758.9 L596.9,759.3 L598.9,759.8 L600.9,760.3 L602.8,760.8 L604.8,761.4 L606.8,761.9 L608.8,762.5 L610.8,763.0 L612.8,763.6 L614.8,764.2 L616.8,764.8 L618.8,765.4 L620.8,766.0 L622.8,766.6 L624.8,767.3 L626.8,767.9 L628.8,768.5 L630.8,769.1 L632.8,769.7 L634.8,770.3 L636.8,770.8 L638.8,771.4 L640.8,771.9 L642.8,772.5 L644.8,773.0 L646.8,773.5 L648.8,774.0 L650.8,774.4 L652.8,774.9 L654.8,775.3 L656.8,775.7 L658.8,776.0 L660.8,776.3 L662.8,776.6 L664.8,776.9 L666.8,777.1 L668.7,777.3 L670.7,777.4 L672.7,777.5 L674.7,777.6 L676.7,777.6 L678.7,777.5 L680.7,777.5 L682.7,777.4 L684.7,777.2 L686.7,777.0 L688.7,776.7 L690.7,776.4 L692.7,776.0 L694.7,775.6 L696.7,775.1 L698.7,774.5 L700.7,773.9 L702.7,773.3 L704.7,772.6 L706.7,771.9 L708.7,771.2 L710.7,770.4 L712.7,769.6 L714.7,768.7 L716.7,767.7 L718.7,766.7 L720.7,765.6 L722.7,764.4 L724.7,763.1 L726.7,761.7 L728.7,760.3 L730.7,758.7 L732.7,757.0 L734.6,755.3 L736.6,753.5 L738.6,751.6 L740.6,749.6 L742.6,747.5 L744.6,745.4 L746.6,743.2 L748.6,740.9 L750.6,738.6 L752.6,736.2 L754.6,733.7 L756.6,731.2 L758.6,728.6 L760.6,726.0 L762.6,723.3 L764.6,720.5 L766.6,717.6 L768.6,714.7 L770.6,711.7 L772.6,708.7 L774.6,705.6 L776.6,702.4 L778.6,699.2 L780.6,695.9 L782.6,692.5 L784.6,689.1 L786.6,685.7 L788.6,682.1 L790.6,678.5 L792.6,675.0 L794.6,671.4 L796.6,667.8 L798.6,664.2 L800.5,660.5 L802.5,656.8 L804.5,653.0 L806.5,649.1 L808.5,645.1 L810.5,641.1 L812.5,637.0 L814.5,632.9 L816.5,628.7 L818.5,624.5 L820.5,620.3 L822.5,616.0 L824.5,611.6 L826.5,607.3 L828.5,602.9 L830.5,598.4 L832.5,594.0 L834.5,589.5 L836.5,585.0 L838.5,580.4 L840.5,575.9 L842.5,571.3 L844.5,566.7 L846.5,562.1 L848.5,557.5 L850.5,552.9 L852.5,548.3 L854.5,543.7 L856.5,539.1 L858.5,534.6 L860.5,530.1 L862.5,525.7 L864.5,521.3 L866.5,516.9 L868.4,512.5 L870.4,508.1 L872.4,503.7 L874.4,499.4 L876.4,495.1 L878.4,490.8 L880.4,486.5 L882.4,482.2 L884.4,477.8 L886.4,473.5 L888.4,469.1 L890.4,464.6 L892.4,460.2 L894.4,455.8 L896.4,451.5 L898.4,447.2 L900.4,443.1 L902.4,439.1 L904.4,435.1 L906.4,431.2 L908.4,427.4 L910.4,423.6 L912.4,419.9 L914.4,416.2 L916.4,412.6 L918.4,409.0 L920.4,405.5 L922.4,402.0 L924.4,398.7 L926.4,395.5 L928.4,392.4 L930.4,389.3 L932.4,386.4 L934.3,383.5 L936.3,380.7 L938.3,378.0 L940.3,375.3 L942.3,372.6 L944.3,370.1 L946.3,367.6 L948.3,365.3 L950.3,363.1 L952.3,361.0 L954.3,359.0 L956.3,357.1 L958.3,355.3 L960.3,353.7 L962.3,352.1 L964.3,350.7 L966.3,349.4 L968.3,348.3 L970.3,347.2 L972.3,346.2 L974.3,345.3 L976.3,344.5 L978.3,343.8 L980.3,343.2 L982.3,342.7 L984.3,342.3 L986.3,342.0 L988.3,341.9 L990.3,341.8 L992.3,341.9 L994.3,342.0 L996.3,342.3 L998.3,342.7 L1000.2,343.3 L1002.2,344.0 L1004.2,344.8 L1006.2,345.7 L1008.2,346.7 L1010.2,347.8 L1012.2,349.1 L1014.2,350.4 L1016.2,351.9 L1018.2,353.4 L1020.2,355.1 L1022.2,356.8 L1024.2,358.7 L1026.2,360.7 L1028.2,362.7 L1030.2,364.9 L1032.2,367.2 L1034.2,369.5 L1036.2,372.0 L1038.2,374.5 L1040.2,377.2 L1042.2,379.9 L1044.2,382.7 L1046.2,385.5 L1048.2,388.5 L1050.2,391.5 L1052.2,394.5 L1054.2,397.7 L1056.2,400.9 L1058.2,404.3 L1060.2,407.7 L1062.2,411.2 L1064.2,414.8 L1066.1,418.4 L1068.1,422.2 L1070.1,426.0 L1072.1,429.9 L1074.1,433.8 L1076.1,437.9 L1078.1,442.0 L1080.1,446.2 L1082.1,450.4 L1084.1,454.8 L1086.1,459.2 L1088.1,463.6 L1090.1,468.1 L1092.1,472.7 L1094.1,477.3 L1096.1,482.0 L1098.1,486.7 L1100.1,491.5 L1102.1,496.3 L1104.1,501.2 L1106.1,506.1 L1108.1,511.1 L1110.1,516.1 L1112.1,521.1 L1114.1,526.2 L1116.1,531.3 L1118.1,536.5 L1120.1,541.7 L1122.1,546.8 L1124.1,552.1 L1126.1,557.3 L1128.1,562.6 L1130.1,567.8 L1132.1,573.1 L1134.0,578.4 L1136.0,583.8 L1138.0,589.1 L1140.0,594.4 L1142.0,599.7 L1144.0,605.1 L1146.0,610.4 L1148.0,615.8 L1150.0,621.1 L1152.0,626.4 L1154.0,631.8 L1156.0,637.1 L1158.0,642.4 L1160.0,647.7 L1162.0,653.0 L1164.0,658.3 L1166.0,663.5 L1168.0,668.8 L1170.0,674.0 L1172.0,679.2 L1174.0,684.4 L1176.0,689.6 L1178.0,694.7 L1180.0,699.9 L1182.0,705.0 L1184.0,710.0 L1186.0,715.1 L1188.0,720.1 L1190.0,725.1 L1192.0,730.0 L1194.0,735.0 L1196.0,739.9 L1198.0,744.7 L1199.9,749.5 L1201.9,754.3 L1203.9,759.0 L1205.9,763.7 L1207.9,768.3 L1209.9,772.9 L1211.9,777.4 L1213.9,781.9 L1215.9,786.4 L1217.9,790.8 L1219.9,795.3 L1221.9,799.7 L1223.9,804.0 L1225.9,808.3 L1227.9,812.6 L1229.9,816.8 L1231.9,821.0 L1233.9,825.1 L1235.9,829.2 L1237.9,833.2 L1239.9,837.2 L1241.9,841.1 L1243.9,845.0 L1245.9,848.8 L1247.9,852.6 L1249.9,856.3 L1251.9,860.0 L1253.9,863.7 L1255.9,867.3 L1257.9,870.8 L1259.9,874.4 L1261.9,878.0 L1263.9,881.5 L1265.8,884.9 L1267.8,888.4 L1269.8,891.7 L1271.8,895.0 L1273.8,898.3 L1275.8,901.5 L1277.8,904.6 L1279.8,907.6 L1281.8,910.6 L1283.8,913.6 L1285.8,916.5 L1287.8,919.4 L1289.8,922.2 L1291.8,924.9 L1293.8,927.6 L1295.8,930.3 L1297.8,932.9 L1299.8,935.5 L1301.8,938.0 L1303.8,940.5 L1305.8,942.9 L1307.8,945.3 L1309.8,947.6 L1311.8,949.9 L1313.8,952.2 L1315.8,954.4 L1317.8,956.6 L1319.8,958.7 L1321.8,960.8 L1323.8,962.8 L1325.8,964.8 L1327.8,966.7 L1329.8,968.6 L1331.8,970.5 L1333.7,972.3 L1335.7,974.1 L1337.7,975.8 L1339.7,977.5 L1341.7,979.1 L1343.7,980.7 L1345.7,982.3 L1347.7,983.8 L1349.7,985.3 L1351.7,986.7 L1353.7,988.2 L1355.7,989.6 L1357.7,990.9 L1359.7,992.2 L1361.7,993.5 L1363.7,994.8 L1365.7,996.0 L1367.7,997.2 L1369.7,998.4 L1371.7,999.6 L1373.7,1000.7 L1375.7,1001.8 L1377.7,1002.8 L1379.7,1003.8 L1381.7,1004.8 L1383.7,1005.8 L1385.7,1006.8 L1387.7,1007.7 L1389.7,1008.6 L1391.7,1009.5 L1393.7,1010.3 L1395.7,1011.2 L1397.7,1012.0 L1399.6,1012.8 L1401.6,1013.5 L1403.6,1014.3 L1405.6,1015.0 L1407.6,1015.7 L1409.6,1016.4 L1411.6,1017.0 L1413.6,1017.7 L1415.6,1018.3 L1417.6,1018.9 L1419.6,1019.5 L1421.6,1020.1 L1423.6,1020.6 L1425.6,1021.2 L1427.6,1021.7 L1429.6,1022.2 L1431.6,1022.7" stroke="#ff00ff" stroke-opacity="0.25" stroke-width="6.7"/>
<path d="M235.4,1013.9 L237.4,1013.2 L239.4,1012.6 L241.4,1011.9 L243.4,1011.2 L245.4,1010.5 L247.4,1009.8 L249.4,1009.0 L251.4,1008.3 L253.4,1007.5 L255.4,1006.7 L257.4,1005.8 L259.4,1005.0 L261.4,1004.1 L263.4,1003.2 L265.4,1002.3 L267.4,1001.4 L269.3,1000.5 L271.3,999.5 L273.3,998.5 L275.3,997.5 L277.3,996.5 L279.3,995.4 L281.3,994.3 L283.3,993.2 L285.3,992.1 L287.3,990.9 L289.3,989.8 L291.3,988.6 L293.3,987.4 L295.3,986.1 L297.3,984.8 L299.3,983.6 L301.3,982.2 L303.3,980.9 L305.3,979.5 L307.3,978.1 L309.3,976.7 L311.3,975.3 L313.3,973.8 L315.3,972.3 L317.3,970.8 L319.3,969.3 L321.3,967.7 L323.3,966.2 L325.3,964.5 L327.3,962.9 L329.3,961.3 L331.3,959.6 L333.3,957.9 L335.2,956.1 L337.2,954.4 L339.2,952.6 L341.2,950.8 L343.2,949.0 L345.2,947.1 L347.2,945.2 L349.2,943.3 L351.2,941.4 L353.2,939.5 L355.2,937.5 L357.2,935.5 L359.2,933.5 L361.2,931.5 L363.2,929.5 L365.2,927.4 L367.2,925.3 L369.2,923.2 L371.2,921.1 L373.2,918.9 L375.2,916.8 L377.2,914.6 L379.2,912.4 L381.2,910.2 L383.2,908.0 L385.2,905.8 L387.2,903.5 L389.2,901.2 L391.2,899.0 L393.2,896.7 L395.2,894.4 L397.2,892.1 L399.2,889.7 L401.2,887.4 L403.1,885.1 L405.1,882.7 L407.1,880.4 L409.1,878.0 L411.1,875.7 L413.1,873.3 L415.1,870.9 L417.1,868.6 L419.1,866.2 L421.1,863.8 L423.1,861.4 L425.1,859.1 L427.1,856.7 L429.1,854.3 L431.1,852.0 L433.1,849.6 L435.1,847.3 L437.1,845.0 L439.1,842.6 L441.1,840.3 L443.1,838.0 L445.1,835.7 L447.1,833.4 L449.1,831.2 L451.1,828.9 L453.1,826.7 L455.1,824.5 L457.1,822.3 L459.1,820.1 L461.1,817.9 L463.1,815.8 L465.1,813.7 L467.1,811.6 L469.0,809.5 L471.0,807.5 L473.0,805.4 L475.0,803.5 L477.0,801.5 L479.0,799.6 L481.0,797.7 L483.0,795.8 L485.0,794.0 L487.0,792.2 L489.0,790.4 L491.0,788.7 L493.0,787.0 L495.0,785.4 L497.0,783.8 L499.0,782.2 L501.0,780.7 L503.0,779.2 L505.0,777.7 L507.0,776.3 L509.0,775.0 L511.0,773.6 L513.0,772.4 L515.0,771.1 L517.0,770.0 L519.0,768.8 L521.0,767.7 L523.0,766.7 L525.0,765.7 L527.0,764.7 L529.0,763.8 L531.0,763.0 L533.0,762.2 L534.9,761.4 L536.9,760.7 L538.9,760.0 L540.9,759.4 L542.9,758.8 L544.9,758.3 L546.9,757.8 L548.9,757.4 L550.9,757.0 L552.9,756.7 L554.9,756.4 L556.9,756.2 L558.9,756.0 L560.9,755.8 L562.9,755.7 L564.9,755.6 L566.9,755.6 L568.9,755.6 L570.9,755.6 L572.9,755.7 L574.9,755.9 L576.9,756.0 L578.9,756.2 L580.9,756.4 L582.9,756.7 L584.9,757.0 L586.9,757.3 L588.9,757.7 L590.9,758.0 L592.9,758.5 L594.9,758.9 L596.9,759.3 L598.9,759.8 L600.9,760.3 L602.8,760.8 L604.8,761.4 L606.8,761.9 L608.8,762.5 L610.8,763.0 L612.8,763.6 L614.8,764.2 L616.8,764.8 L618.8,765.4 L620.8,766.0 L622.8,766.6 L624.8,767.3 L626.8,767.9 L628.8,768.5 L630.8,769.1 L632.8,769.7 L634.8,770.3 L636.8,770.8 L638.8,771.4 L640.8,771.9 L642.8,772.5 L644.8,773.0 L646.8,773.5 L648.8,774.0 L650.8,774.4 L652.8,774.9 L654.8,775.3 L656.8,775.7 L658.8,776.0 L660.8,776.3 L662.8,776.6 L664.8,776.9 L666.8,777.1 L668.7,777.3 L670.7,777.4 L672.7,777.5 L674.7,777.6 L676.7,777.6 L678.7,777.5 L680.7,777.5 L682.7,777.4 L684.7,777.2 L686.7,777.0 L688.7,776.7 L690.7,776.4 L692.7,776.0 L694.7,775.6 L696.7,775.1 L698.7,774.5 L700.7,773.9 L702.7,773.3 L704.7,772.6 L706.7,771.9 L708.7,771.2 L710.7,770.4 L712.7,769.6 L714.7,768.7 L716.7,767.7 L718.7,766.7 L720.7,765.6 L722.7,764.4 L724.7,763.1 L726.7,761.7 L728.7,760.3 L730.7,758.7 L732.7,757.0 L734.6,755.3 L736.6,753.5 L738.6,751.6 L740.6,749.6 L742.6,747.5 L744.6,745.4 L746.6,743.2 L748.6,740.9 L750.6,738.6 L752.6,736.2 L754.6,733.7 L756.6,731.2 L758.6,728.6 L760.6,726.0 L762.6,723.3 L764.6,720.5 L766.6,717.6 L768.6,714.7 L770.6,711.7 L772.6,708.7 L774.6,705.6 L776.6,702.4 L778.6,699.2 L780.6,695.9 L782.6,692.5 L784.6,689.1 L786.6,685.7 L788.6,682.1 L790.6,678.5 L792.6,675.0 L794.6,671.4 L796.6,667.8 L798.6,664.2 L800.5,660.5 L802.5,656.8 L804.5,653.0 L806.5,649.1 L808.5,645.1 L810.5,641.1 L812.5,637.0 L814.5,632.9 L816.5,628.7 L818.5,624.5 L820.5,620.3 L822.5,616.0 L824.5,611.6 L826.5,607.3 L828.5,602.9 L830.5,598.4 L832.5,594.0 L834.5,589.5 L836.5,585.0 L838.5,580.4 L840.5,575.9 L842.5,571.3 L844.5,566.7 L846.5,562.1 L848.5,557.5 L850.5,552.9 L852.5,548.3 L854.5,543.7 L856.5,539.1 L858.5,534.6 L860.5,530.1 L862.5,525.7 L864.5,521.3 L866.5,516.9 L868.4,512.5 L870.4,508.1 L872.4,503.7 L874.4,499.4 L876.4,495.1 L878.4,490.8 L880.4,486.5 L882.4,482.2 L884.4,477.8 L886.4,473.5 L888.4,469.1 L890.4,464.6 L892.4,460.2 L894.4,455.8 L896.4,451.5 L898.4,447.2 L900.4,443.1 L902.4,439.1 L904.4,435.1 L906.4,431.2 L908.4,427.4 L910.4,423.6 L912.4,419.9 L914.4,416.2 L916.4,412.6 L918.4,409.0 L920.4,405.5 L922.4,402.0 L924.4,398.7 L926.4,395.5 L928.4,392.4 L930.4,389.3 L932.4,386.4 L934.3,383.5 L936.3,380.7 L938.3,378.0 L940.3,375.3 L942.3,372.6 L944.3,370.1 L946.3,367.6 L948.3,365.3 L950.3,363.1 L952.3,361.0 L954.3,359.0 L956.3,357.1 L958.3,355.3 L960.3,353.7 L962.3,352.1 L964.3,350.7 L966.3,349.4 L968.3,348.3 L970.3,347.2 L972.3,346.2 L974.3,345.3 L976.3,344.5 L978.3,343.8 L980.3,343.2 L982.3,342.7 L984.3,342.3 L986.3,342.0 L988.3,341.9 L990.3,341.8 L992.3,341.9 L994.3,342.0 L996.3,342.3 L998.3,342.7 L1000.2,343.3 L1002.2,344.0 L1004.2,344.8 L1006.2,345.7 L1008.2,346.7 L1010.2,347.8 L1012.2,349.1 L1014.2,350.4 L1016.2,351.9 L1018.2,353.4 L1020.2,355.1 L1022.2,356.8 L1024.2,358.7 L1026.2,360.7 L1028.2,362.7 L1030.2,364.9 L1032.2,367.2 L1034.2,369.5 L1036.2,372.0 L1038.2,374.5 L1040.2,377.2 L1042.2,379.9 L1044.2,382.7 L1046.2,385.5 L1048.2,388.5 L1050.2,391.5 L1052.2,394.5 L1054.2,397.7 L1056.2,400.9 L1058.2,404.3 L1060.2,407.7 L1062.2,411.2 L1064.2,414.8 L1066.1,418.4 L1068.1,422.2 L1070.1,426.0 L1072.1,429.9 L1074.1,433.8 L1076.1,437.9 L1078.1,442.0 L1080.1,446.2 L1082.1,450.4 L1084.1,454.8 L1086.1,459.2 L1088.1,463.6 L1090.1,468.1 L1092.1,472.7 L1094.1,477.3 L1096.1,482.0 L1098.1,486.7 L1100.1,491.5 L1102.1,496.3 L1104.1,501.2 L1106.1,506.1 L1108.1,511.1 L1110.1,516.1 L1112.1,521.1 L1114.1,526.2 L1116.1,531.3 L1118.1,536.5 L1120.1,541.7 L1122.1,546.8 L1124.1,552.1 L1126.1,557.3 L1128.1,562.6 L1130.1,567.8 L1132.1,573.1 L1134.0,578.4 L1136.0,583.8 L1138.0,589.1 L1140.0,594.4 L1142.0,599.7 L1144.0,605.1 L1146.0,610.4 L1148.0,615.8 L1150.0,621.1 L1152.0,626.4 L1154.0,631.8 L1156.0,637.1 L1158.0,642.4 L1160.0,647.7 L1162.0,653.0 L1164.0,658.3 L1166.0,663.5 L1168.0,668.8 L1170.0,674.0 L1172.0,679.2 L1174.0,684.4 L1176.0,689.6 L1178.0,694.7 L1180.0,699.9 L1182.0,705.0 L1184.0,710.0 L1186.0,715.1 L1188.0,720.1 L1190.0,725.1 L1192.0,730.0 L1194.0,735.0 L1196.0,739.9 L1198.0,744.7 L1199.9,749.5 L1201.9,754.3 L1203.9,759.0 L1205.9,763.7 L1207.9,768.3 L1209.9,772.9 L1211.9,777.4 L1213.9,781.9 L1215.9,786.4 L1217.9,790.8 L1219.9,795.3 L1221.9,799.7 L1223.9,804.0 L1225.9,808.3 L1227.9,812.6 L1229.9,816.8 L1231.9,821.0 L1233.9,825.1 L1235.9,829.2 L1237.9,833.2 L1239.9,837.2 L1241.9,841.1 L1243.9,845.0 L1245.9,848.8 L1247.9,852.6 L1249.9,856.3 L1251.9,860.0 L1253.9,863.7 L1255.9,867.3 L1257.9,870.8 L1259.9,874.4 L1261.9,878.0 L1263.9,881.5 L1265.8,884.9 L1267.8,888.4 L1269.8,891.7 L1271.8,895.0 L1273.8,898.3 L1275.8,901.5 L1277.8,904.6 L1279.8,907.6 L1281.8,910.6 L1283.8,913.6 L1285.8,916.5 L1287.8,919.4 L1289.8,922.2 L1291.8,924.9 L1293.8,927.6 L1295.8,930.3 L1297.8,932.9 L1299.8,935.5 L1301.8,938.0 L1303.8,940.5 L1305.8,942.9 L1307.8,945.3 L1309.8,947.6 L1311.8,949.9 L1313.8,952.2 L1315.8,954.4 L1317.8,956.6 L1319.8,958.7 L1321.8,960.8 L1323.8,962.8 L1325.8,964.8 L1327.8,966.7 L1329.8,968.6 L1331.8,970.5 L1333.7,972.3 L1335.7,974.1 L1337.7,975.8 L1339.7,977.5 L1341.7,979.1 L1343.7,980.7 L1345.7,982.3 L1347.7,983.8 L1349.7,985.3 L1351.7,986.7 L1353.7,988.2 L1355.7,989.6 L1357.7,990.9 L1359.7,992.2 L1361.7,993.5 L1363.7,994.8 L1365.7,996.0 L1367.7,997.2 L1369.7,998.4 L1371.7,999.6 L1373.7,1000.7 L1375.7,1001.8 L1377.7,1002.8 L1379.7,1003.8 L1381.7,1004.8 L1383.7,1005.8 L1385.7,1006.8 L1387.7,1007.7 L1389.7,1008.6 L1391.7,1009.5 L1393.7,1010.3 L1395.7,1011.2 L1397.7,1012.0 L1399.6,1012.8 L1401.6,1013.5 L1403.6,1014.3 L1405.6,1015.0 L1407.6,1015.7 L1409.6,1016.4 L1411.6,1017.0 L1413.6,1017.7 L1415.6,1018.3 L1417.6,1018.9 L1419.6,1019.5 L1421.6,1020.1 L1423.6,1020.6 L1425.6,1021.2 L1427.6,1021.7 L1429.6,1022.2 L1431.6,1022.7" stroke="#ff00ff" stroke-width="4.5"/>
</g>
<g stroke="#000" stroke-width="3.6" fill="none" stroke-linecap="butt">
<path d="M226.5,50.1 V1137.8"/>
<path d="M1431.2,50.1 V1137.8"/>
<path d="M205.0,1111.8 H1432.9"/>
<path d="M205.0,51.7 H1432.9"/>
<path d="M215.5,1005.9 H226.5 M205.0,900.0 H226.5 M215.5,794.2 H226.5 M205.0,688.3 H226.5 M215.5,582.4 H226.5 M205.0,476.5 H226.5 M215.5,370.6 H226.5 M205.0,264.8 H226.5 M215.5,158.9 H226.5 M326.8,1111.8 V1126.3 M427.2,1111.8 V1137.8 M527.5,1111.8 V1126.3 M627.8,1111.8 V1137.8 M728.2,1111.8 V1126.3 M828.5,1111.8 V1137.8 M928.8,1111.8 V1126.3 M1029.2,1111.8 V1137.8 M1129.5,1111.8 V1126.3 M1229.8,1111.8 V1137.8 M1330.2,1111.8 V1126.3"/>
</g>
<text transform="translate(193.5,1127.4) scale(1,1.26)" font-size="41.0" stroke-width="0.12" text-anchor="end">0</text>
<text transform="translate(193.5,915.6) scale(1,1.26)" font-size="41.0" stroke-width="0.12" text-anchor="end">500</text>
<text transform="translate(193.5,703.9) scale(1,1.26)" font-size="41.0" stroke-width="0.12" text-anchor="end">1000</text>
<text transform="translate(193.5,492.1) scale(1,1.26)" font-size="41.0" stroke-width="0.12" text-anchor="end">1500</text>
<text transform="translate(193.5,280.4) scale(1,1.26)" font-size="41.0" stroke-width="0.12" text-anchor="end">2000</text>
<text transform="translate(193.5,68.6) scale(1,1.26)" font-size="41.0" stroke-width="0.12" text-anchor="end">2500</text>
<text transform="translate(226.5,1191.3) scale(1,1.26)" font-size="41.0" stroke-width="0.12" text-anchor="middle">1200</text>
<text transform="translate(427.2,1191.3) scale(1,1.26)" font-size="41.0" stroke-width="0.12" text-anchor="middle">1300</text>
<text transform="translate(627.8,1191.3) scale(1,1.26)" font-size="41.0" stroke-width="0.12" text-anchor="middle">1400</text>
<text transform="translate(828.5,1191.3) scale(1,1.26)" font-size="41.0" stroke-width="0.12" text-anchor="middle">1500</text>
<text transform="translate(1029.2,1191.3) scale(1,1.26)" font-size="41.0" stroke-width="0.12" text-anchor="middle">1600</text>
<text transform="translate(1229.8,1191.3) scale(1,1.26)" font-size="41.0" stroke-width="0.12" text-anchor="middle">1700</text>
<text transform="translate(1430.5,1191.3) scale(1,1.26)" font-size="41.0" stroke-width="0.12" text-anchor="middle">1800</text>
<text transform="translate(66.7,560.0) rotate(-90) scale(1.21,1)" font-size="50.5" stroke-width="0.1" text-anchor="middle">Intensity</text>
<text transform="translate(623.0,1293.6) scale(1,1.2)" font-size="50.5" stroke-width="0.1">Raman shift (cm<tspan font-size="27.5" dy="-26.5">-1</tspan><tspan dy="26.5" dx="2">)</tspan></text>
<rect x="1099.6" y="96.6" width="309.2" height="199.6" fill="#fff" stroke="#969696" stroke-width="3.6"/>
<path d="M1130.5,138.1 H1202.5" stroke="#000" stroke-width="5.6" fill="none"/>
<text transform="translate(1209.0,151.0) scale(1,1.29)" font-size="29.8" stroke-width="0.12" text-anchor="start">Original curve</text>
<path d="M1130.5,184.0 H1202.5" stroke="#ff0000" stroke-width="5.6" fill="none"/>
<text transform="translate(1209.0,196.9) scale(1,1.29)" font-size="29.8" stroke-width="0.12" text-anchor="start">G peak</text>
<path d="M1130.5,229.1 H1202.5" stroke="#0000ff" stroke-width="5.6" fill="none"/>
<text transform="translate(1209.0,242.0) scale(1,1.29)" font-size="29.8" stroke-width="0.12" text-anchor="start">D peak</text>
<path d="M1130.5,274.0 H1202.5" stroke="#ff00ff" stroke-width="5.6" fill="none"/>
<text transform="translate(1209.0,286.9) scale(1,1.29)" font-size="29.8" stroke-width="0.12" text-anchor="start">Fitting curve</text>
</g></svg></body></html>
